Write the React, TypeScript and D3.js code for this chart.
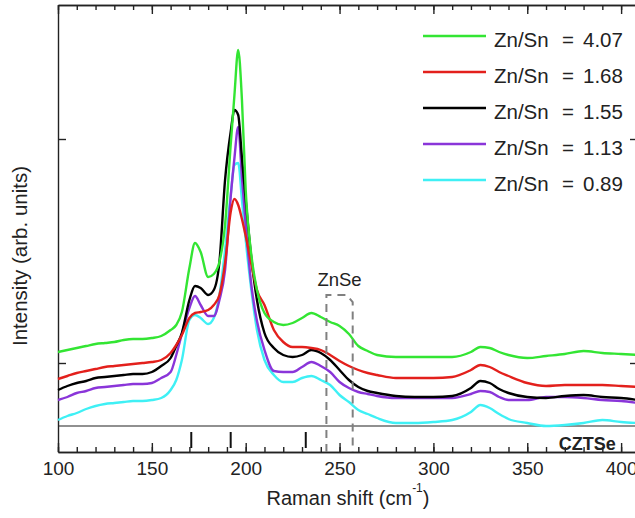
import React, { useEffect, useRef } from 'react';
import * as d3 from 'd3';

// Raman shift grid (cm^-1) and the five spectra (arb. units)
const shift = [100, 105, 110, 115, 120, 125, 130, 135, 140, 145, 150, 155, 160,
  163, 166, 170, 173, 176, 180, 183, 186, 189, 192, 194, 196, 198, 200, 203, 206, 210,
  215, 220, 225, 230, 235, 240, 245, 250, 255, 260, 265, 270,
  280, 290, 300, 310, 320, 325, 330, 335, 340, 350, 360, 370, 380, 390, 400, 409];

const zn407 = [74, 76, 78, 80, 82, 83, 84, 86, 87, 87, 88, 90, 96,
  101, 114, 158, 183, 174, 149, 152, 164, 201, 281, 331, 376, 326, 236, 171, 136, 113,
  104, 101, 103, 108, 113, 109, 104, 100, 92, 80, 75, 71,
  69, 69, 69, 69, 74, 79, 78, 74, 71, 68, 70, 72, 75, 73, 72, 71];

const zn168 = [47, 50, 53, 55, 57, 59, 60, 61, 62, 63, 64, 66, 73,
  81, 91, 108, 113, 114, 116, 121, 131, 163, 214, 227, 221, 207, 190, 162, 136, 121,
  96, 84, 79, 79, 78, 76, 71, 65, 60, 56, 53, 51,
  48, 48, 48, 49, 56, 61, 59, 54, 50, 43, 40, 41, 41, 41, 40, 39];

const zn155 = [36, 40, 43, 45, 48, 49, 50, 51, 52, 52, 54, 60, 68,
  80, 93, 126, 140, 138, 131, 136, 164, 246, 294, 316, 311, 268, 226, 168, 126, 93,
  78, 71, 69, 71, 76, 73, 66, 56, 46, 39, 35, 33,
  30, 29, 29, 30, 38, 45, 43, 37, 33, 29, 28, 30, 31, 29, 28, 26];

const zn113 = [26, 29, 33, 35, 38, 39, 40, 41, 42, 42, 43, 48, 54,
  71, 92, 118, 130, 121, 110, 110, 126, 156, 229, 268, 299, 248, 201, 141, 105, 76,
  55, 54, 54, 59, 64, 60, 54, 44, 38, 34, 32, 30,
  28, 28, 28, 28, 32, 35, 34, 29, 26, 26, 29, 29, 28, 26, 25, 23];

const zn089 = [6, 10, 13, 17, 20, 22, 23, 24, 25, 25, 26, 28, 36,
  46, 66, 106, 111, 108, 102, 108, 131, 176, 231, 261, 263, 226, 186, 136, 96, 66,
  51, 44, 44, 48, 50, 46, 41, 31, 24, 16, 12, 8,
  3, 3, 4, 6, 14, 21, 18, 12, 7, 3, 0, 1, 3, 6, 4, 3];

const ratios = ['4.07', '1.68', '1.55', '1.13', '0.89'];
const spectra = [zn407, zn168, zn155, zn113, zn089];
const colors = ['#33e533', '#e3201c', '#000000', '#8a35d9', '#3ff0f5'];

const czteseModes = [171, 192, 232];
const znseRange = [243, 257];
const znseTop = 131;

const xMajor = [100, 150, 200, 250, 300, 350, 400];
const xMinor = d3.range(100, 410, 10);
const yTicks = [63, 287];

const FONT = '"Liberation Sans", Arial, sans-serif';

const App = () => {
  const svgRef = useRef<SVGSVGElement>(null);

  useEffect(() => {
    document.body.style.margin = '0';
    const svg = d3.select(svgRef.current);
    svg.selectAll('*').remove();

    const x = d3.scaleLinear().domain([100, 409]).range([58, 638]);
    const y = d3.scaleLinear().domain([-26, 421]).range([452, 5]);
    const frame = '#222';

    const styleAxis = (g: any) => {
      g.selectAll('path, line').attr('stroke', frame).attr('stroke-width', 1.4);
      g.selectAll('text').attr('font-family', FONT).attr('font-size', 19).attr('fill', '#222');
    };

    // bottom axis
    svg.append('g').attr('transform', `translate(0,${y(-26)})`)
      .call(d3.axisBottom(x).tickValues(xMinor).tickSize(-5).tickSizeOuter(0).tickFormat(() => ''))
      .call(styleAxis);
    svg.append('g').attr('transform', `translate(0,${y(-26)})`)
      .call(d3.axisBottom(x).tickValues(xMajor).tickSize(-9).tickSizeOuter(0).tickPadding(10).tickFormat(d3.format('d')))
      .call(styleAxis);

    // top axis
    svg.append('g').attr('transform', `translate(0,${y(421)})`)
      .call(d3.axisTop(x).tickValues(xMinor).tickSize(-5).tickSizeOuter(0).tickFormat(() => ''))
      .call(styleAxis);
    svg.append('g').attr('transform', `translate(0,${y(421)})`)
      .call(d3.axisTop(x).tickValues(xMajor).tickSize(-9).tickSizeOuter(0).tickFormat(() => ''))
      .call(styleAxis);

    // left / right axes
    svg.append('g').attr('transform', `translate(${x(100)},0)`)
      .call(d3.axisLeft(y).tickValues(yTicks).tickSize(-8).tickSizeOuter(0).tickFormat(() => ''))
      .call(styleAxis);
    svg.append('g').attr('transform', `translate(${x(409)},0)`)
      .call(d3.axisRight(y).tickValues(yTicks).tickSize(-8).tickSizeOuter(0).tickFormat(() => ''))
      .call(styleAxis);

    // separator of the reference panel
    svg.append('line')
      .attr('x1', x(100)).attr('x2', x(409))
      .attr('y1', y(0)).attr('y2', y(0))
      .attr('stroke', frame).attr('stroke-width', 1.2);

    // CZTSe mode markers
    svg.selectAll('.mode')
      .data(czteseModes)
      .enter()
      .append('line')
      .attr('x1', d => x(d)).attr('x2', d => x(d))
      .attr('y1', y(-6)).attr('y2', y(-22))
      .attr('stroke', '#111').attr('stroke-width', 2);

    svg.append('text')
      .attr('x', x(382))
      .attr('y', y(-24))
      .attr('text-anchor', 'middle')
      .attr('font-family', FONT)
      .attr('font-weight', 'bold')
      .attr('font-size', 18)
      .attr('fill', '#222')
      .text('CZTSe');

    // spectra
    const line = d3.line<number>()
      .x((_, i) => x(shift[i]))
      .y(d => y(d))
      .curve(d3.curveMonotoneX);

    const order = [4, 3, 2, 1, 0];
    order.forEach(k => {
      svg.append('path')
        .datum(spectra[k])
        .attr('d', line)
        .attr('fill', 'none')
        .attr('stroke', colors[k])
        .attr('stroke-width', 2.4)
        .attr('stroke-linejoin', 'round');
    });

    // ZnSe dashed bracket
    const [z0, z1] = znseRange;
    const bracket = d3.path();
    bracket.moveTo(x(z0), y(-26));
    bracket.lineTo(x(z0), y(znseTop));
    bracket.lineTo(x(z1) - 6, y(znseTop));
    bracket.lineTo(x(z1), y(znseTop) + 7);
    bracket.lineTo(x(z1), y(-26));
    svg.append('path')
      .attr('d', bracket.toString())
      .attr('fill', 'none')
      .attr('stroke', '#808080')
      .attr('stroke-width', 2)
      .attr('stroke-dasharray', '8,6');

    svg.append('text')
      .attr('x', x((z0 + z1) / 2))
      .attr('y', y(znseTop) - 9)
      .attr('text-anchor', 'middle')
      .attr('font-family', FONT)
      .attr('font-size', 18.5)
      .attr('fill', '#222')
      .text('ZnSe');

    // legend
    const legend = svg.append('g');
    ratios.forEach((r, i) => {
      const ly = 36 + i * 36;
      legend.append('line')
        .attr('x1', 423).attr('x2', 486)
        .attr('y1', ly).attr('y2', ly)
        .attr('stroke', colors[i]).attr('stroke-width', 2.4);
      const t = legend.append('text')
        .attr('y', ly + 11)
        .attr('font-family', FONT)
        .attr('font-size', 20.5)
        .attr('fill', '#222');
      t.append('tspan').attr('x', 494).text('Zn/Sn');
      t.append('tspan').attr('x', 562).text('=');
      t.append('tspan').attr('x', 583).text(r);
    });

    // axis titles
    const xt = svg.append('text')
      .attr('x', 348)
      .attr('y', 505)
      .attr('text-anchor', 'middle')
      .attr('font-family', FONT)
      .attr('font-size', 20)
      .attr('fill', '#222');
    xt.append('tspan').text('Raman shift (cm');
    xt.append('tspan').attr('font-size', 12).attr('dy', -13).text('-1');
    xt.append('tspan').attr('dy', 13).text(')');

    svg.append('text')
      .attr('transform', 'rotate(-90)')
      .attr('x', -256)
      .attr('y', 27)
      .attr('text-anchor', 'middle')
      .attr('font-family', FONT)
      .attr('font-size', 20.5)
      .attr('fill', '#222')
      .text('Intensity (arb. units)');
  }, []);

  return (
    <div>
      <svg ref={svgRef} width={635} height={518} style={{ display: 'block', background: '#fff' }}></svg>
    </div>
  );
};

export default App;
